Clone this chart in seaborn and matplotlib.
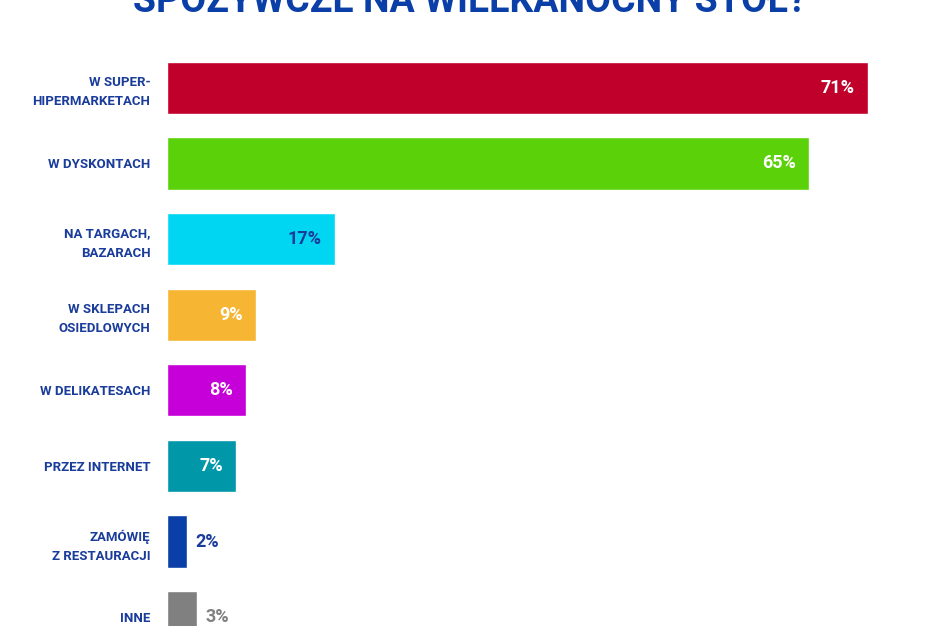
import matplotlib
matplotlib.use("Agg")
import matplotlib.pyplot as plt
import seaborn as sns
import pandas as pd

categories = ["W SUPER-\nHIPERMARKETACH", "W DYSKONTACH", "NA TARGACH,\nBAZARACH",
              "W SKLEPACH\nOSIEDLOWYCH", "W DELIKATESACH", "PRZEZ INTERNET",
              "ZAMÓWIĘ\nZ RESTAURACJI", "INNE"]
values = [71, 65, 17, 9, 8, 7, 2, 3]
colors = ["#c0002a", "#5bd10a", "#00d6f2", "#f6b533", "#c600d8", "#0097a9", "#0a3fa8", "#808080"]
label_colors = ["white", "white", "#1a3c9a", "white", "white", "white", "#1a3c9a", "#808080"]
inside = [True, True, True, True, True, True, False, False]

sns.set_theme(style="white")
plt.rcParams['font.family'] = ['Roboto', 'DejaVu Sans']

df = pd.DataFrame({"cat": categories, "val": values})
fig = plt.figure(figsize=(9.4, 6.26), dpi=100)
ax = fig.add_axes([167/940, 1-655/626, (930-167)/940, 605/626])
sns.barplot(data=df, y="cat", x="val", hue="cat", palette=colors, legend=False,
            width=0.69, ax=ax, orient="h", saturation=1)
ax.set_xlim(0, 763/9.87)
ax.set_ylim(7.5, -0.5)
for s in ax.spines.values():
    s.set_visible(False)
ax.set_xticks([])
ax.set_xlabel(""); ax.set_ylabel("")
ax.tick_params(axis="y", length=0, pad=12)
ax.set_yticks(range(len(categories)))
ax.set_yticklabels(categories, fontsize=9.5, fontweight="bold", color="#1a3c9a", linespacing=1.6)
for i, (v, c, ins) in enumerate(zip(values, label_colors, inside)):
    if ins:
        ax.text(v - 1.3, i, f"{v}%", ha="right", va="center", color=c, fontsize=13, fontweight="bold")
    else:
        ax.text(v + 0.9, i, f"{v}%", ha="left", va="center", color=c, fontsize=13, fontweight="bold")
fig.text(0.5, 1-12/626, "SPOŻYWCZE NA WIELKANOCNY STÓŁ?", ha="center", va="baseline",
         fontsize=27, fontweight="bold", color="#0a3fa8")
fig.savefig("out.png", dpi=100)
